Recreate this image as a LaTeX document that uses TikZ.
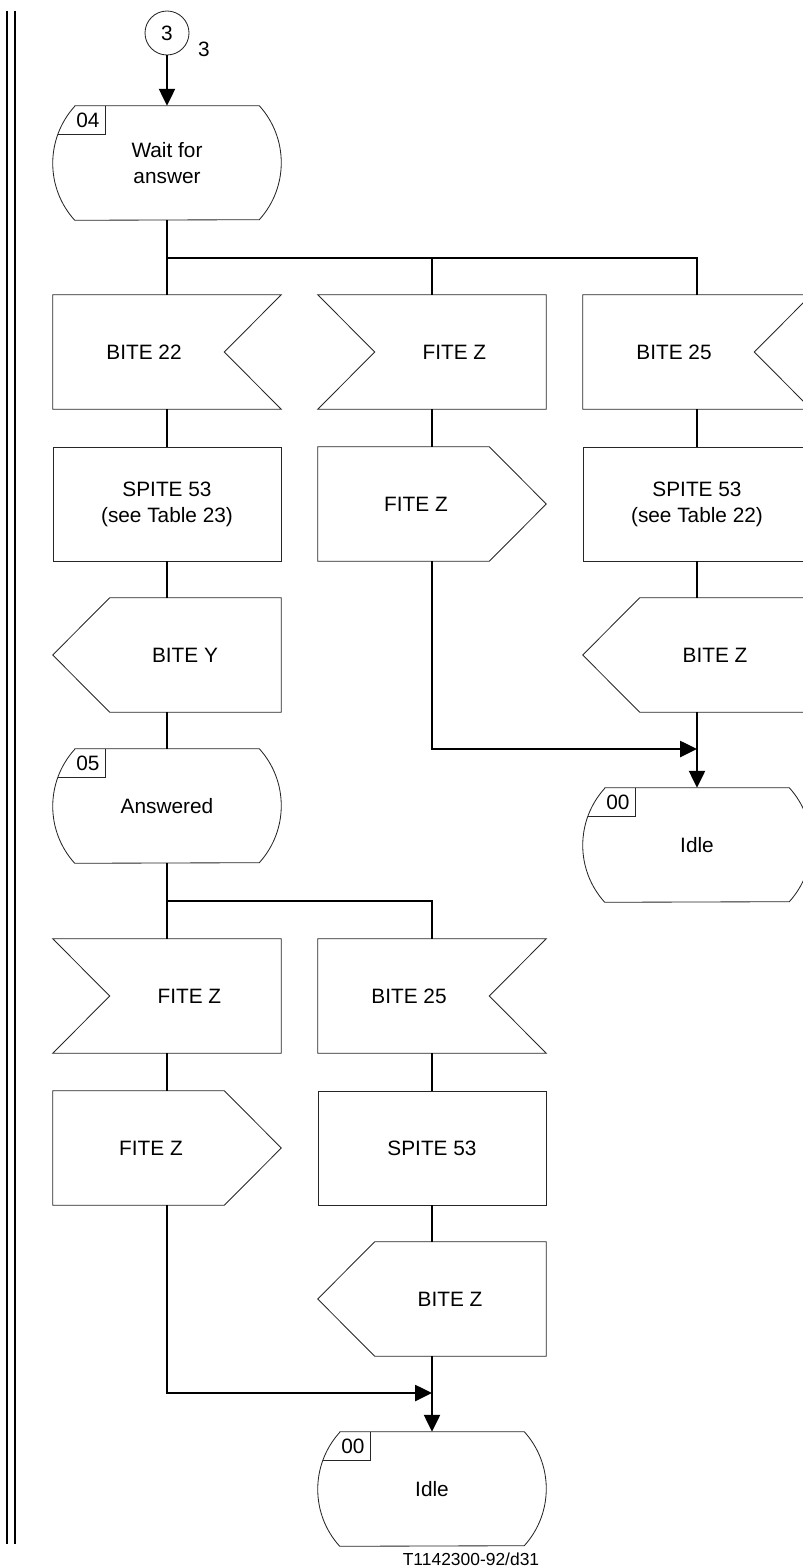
\documentclass[tikz,border=0pt]{standalone}
\usepackage{fontspec}
\setmainfont{Liberation Sans}
\usetikzlibrary{arrows.meta}

\tikzset{
  frame/.style={minimum width=5.7cm, minimum height=2.85cm, inner sep=0pt},
  outline/.style={draw=black!85, line width=0.6pt},
  task/.style={frame, outline},
  link/.style={line width=1.4pt},
  flow/.style={link, -{Triangle[length=0.42cm, width=0.4cm]}}
}

\begin{document}
\begin{tikzpicture}[font=\fontsize{14.8}{18.5}\selectfont]
\useasboundingbox (0,0) rectangle (20.05,-39.2);

% Page rule
\draw[line width=1.4pt] (0.175,-0.275) -- (0.175,-38.6);
\draw[line width=1.4pt] (0.375,-0.275) -- (0.375,-38.6);

% Entry connector
\node[circle, outline, minimum size=1.1cm, inner sep=0pt] (conn3) at (4.175,-0.825) {3};
\node (ref3) at (5.1,-1.225) {3};

% States
\node[frame, label={[align=center]center:Wait for\\answer}] (wait04) at (4.175,-4.075) {};
\node[frame, label={center:Answered}] (ans05) at (4.175,-20.15) {};
\node[frame, label={center:Idle}] (idle1) at (17.425,-21.125) {};
\node[frame, label={center:Idle}] (idle2) at (10.8,-37.225) {};

% First branch
\node[frame, label={[xshift=-0.575cm]center:BITE 22}] (bite22) at (4.175,-8.8) {};
\node[frame, label={[xshift=0.56cm]center:FITE Z}] (fitez1) at (10.8,-8.8) {};
\node[frame, label={[xshift=-0.575cm]center:BITE 25}] (bite25a) at (17.425,-8.8) {};

\node[task, align=center] (spite23) at (4.175,-12.6) {SPITE 53\\(see Table 23)};
\node[frame, label={[xshift=-0.4cm]center:FITE Z}] (fitez2) at (10.8,-12.6) {};
\node[task, align=center] (spite22) at (17.425,-12.6) {SPITE 53\\(see Table 22)};

\node[frame, label={[xshift=0.45cm]center:BITE Y}] (bitey) at (4.175,-16.375) {};
\node[frame, label={[xshift=0.45cm]center:BITE Z}] (bitez1) at (17.425,-16.375) {};

% Second branch
\node[frame, label={[xshift=0.56cm]center:FITE Z}] (fitez3) at (4.175,-24.9) {};
\node[frame, label={[xshift=-0.575cm]center:BITE 25}] (bite25b) at (10.8,-24.9) {};

\node[frame, label={[xshift=-0.4cm]center:FITE Z}] (fitez4) at (4.175,-28.7) {};
\node[task] (spite53) at (10.8,-28.7) {SPITE 53};

\node[frame, label={[xshift=0.45cm]center:BITE Z}] (bitez2) at (10.8,-32.475) {};

% Outlines
\foreach \n/\num in {wait04/04,ans05/05,idle1/00,idle2/00}
{
    \draw[outline] ([xshift=0.55cm]\n.north west) -- ([xshift=-0.55cm]\n.north east)
        arc[start angle=42.2, end angle=-42.2, radius=2.121cm]
        -- ([xshift=0.55cm]\n.south west)
        arc[start angle=222.2, end angle=137.8, radius=2.121cm] -- cycle;
    \draw[outline] ([xshift=1.325cm]\n.north west) -- ++(0,-0.72)
        -- ([shift={(0.12,-0.72)}]\n.north west);
    \node (\n-nr) at ([shift={(0.88,-0.375)}]\n.north west) {\num};
}

\foreach \n in {bite22,bite25a,bite25b}
{
    \draw[outline] (\n.north west) -- (\n.north east) -- ([xshift=-1.425cm]\n.east)
        -- (\n.south east) -- (\n.south west) -- cycle;
}

\foreach \n in {fitez1,fitez3}
{
    \draw[outline] (\n.north west) -- (\n.north east) -- (\n.south east)
        -- (\n.south west) -- ([xshift=1.425cm]\n.west) -- cycle;
}

\foreach \n in {fitez2,fitez4}
{
    \draw[outline] (\n.north west) -- ([xshift=-1.425cm]\n.north east) -- (\n.east)
        -- ([xshift=-1.425cm]\n.south east) -- (\n.south west) -- cycle;
}

\foreach \n in {bitey,bitez1,bitez2}
{
    \draw[outline] ([xshift=1.425cm]\n.north west) -- (\n.north east) -- (\n.south east)
        -- ([xshift=1.425cm]\n.south west) -- (\n.west) -- cycle;
}

% Flow lines
\coordinate (fork1) at (4.175,-6.45);
\coordinate (join1) at (17.425,-18.725);
\coordinate (fork2) at (4.175,-22.525);
\coordinate (join2) at (10.8,-34.825);

\draw[flow] (conn3) -- (wait04);
\draw[link] (wait04) -- (bite22);
\draw[link] (fork1) -| (fitez1);
\draw[link] (fork1) -| (bite25a);
\draw[link] (bite22) -- (spite23);
\draw[link] (spite23) -- (bitey);
\draw[link] (bitey) -- (ans05);
\draw[link] (fitez1) -- (fitez2);
\draw[flow] (fitez2) |- (join1);
\draw[link] (bite25a) -- (spite22);
\draw[link] (spite22) -- (bitez1);
\draw[flow] (bitez1) -- (idle1);

\draw[link] (ans05) -- (fitez3);
\draw[link] (fork2) -| (bite25b);
\draw[link] (fitez3) -- (fitez4);
\draw[flow] (fitez4) |- (join2);
\draw[link] (bite25b) -- (spite53);
\draw[link] (spite53) -- (bitez2);
\draw[flow] (bitez2) -- (idle2);

\node[font=\fontsize{12.4}{14}\selectfont] (figref) at (11.775,-38.975) {T1142300-92/d31};

\end{tikzpicture}
\end{document}
